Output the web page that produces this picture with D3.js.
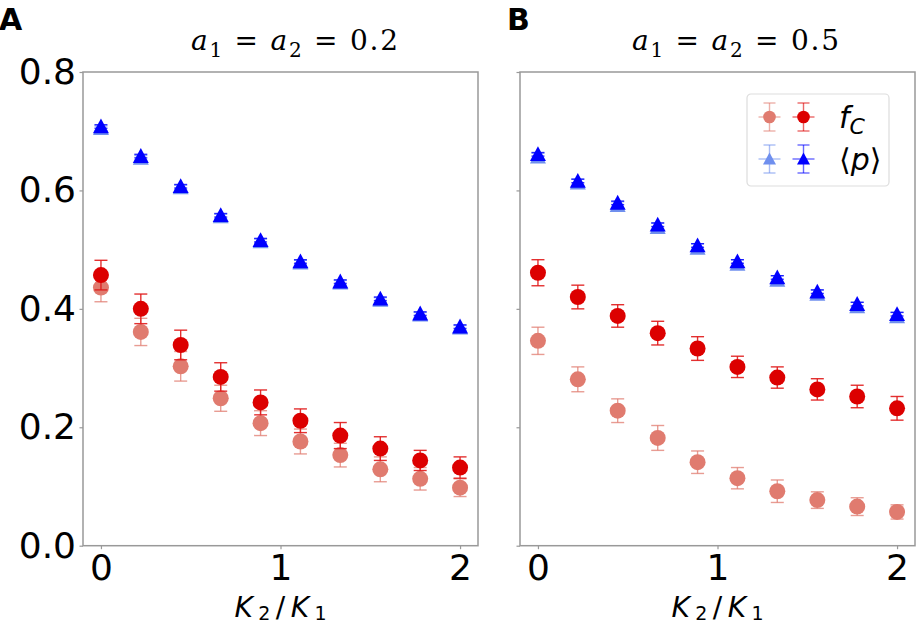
<!DOCTYPE html>
<html lang="en">
<head>
  <meta charset="UTF-8">
  <title>f_C and p vs K2/K1</title>
  <style>
    body { margin: 0; background: #fff; }
    svg { display: block; }
  </style>
</head>
<body>
  <svg id="chart" width="916" height="625"></svg>

  <script src="https://d3js.org/d3.v7.min.js"></script>
  <script>
    // x values (K2/K1)
    const kRatio = [0, 0.222, 0.444, 0.667, 0.889, 1.111, 1.333, 1.556, 1.778, 2]

    // y axis ticks
    const yTicks = [0, 0.2, 0.4, 0.6, 0.8]
    const xTicks = [0, 1, 2]

    // panel A : a1 = a2 = 0.2
    const fcLightA = [0.436, 0.361, 0.303, 0.249, 0.207, 0.176, 0.153, 0.129, 0.113, 0.098]
    const fcLightAErr = [0.024, 0.023, 0.025, 0.022, 0.021, 0.021, 0.020, 0.021, 0.019, 0.015]
    const fcDarkA = [0.457, 0.400, 0.339, 0.285, 0.242, 0.211, 0.186, 0.164, 0.144, 0.132]
    const fcDarkAErr = [0.025, 0.025, 0.025, 0.024, 0.021, 0.020, 0.022, 0.020, 0.017, 0.018]
    const pLightA = [0.705, 0.655, 0.605, 0.556, 0.514, 0.478, 0.444, 0.415, 0.390, 0.368]
    const pLightAErr = [0.004, 0.004, 0.004, 0.004, 0.004, 0.004, 0.004, 0.004, 0.004, 0.004]
    const pDarkA = [0.708, 0.658, 0.607, 0.558, 0.516, 0.480, 0.446, 0.417, 0.392, 0.370]
    const pDarkAErr = [0.003, 0.003, 0.003, 0.003, 0.003, 0.003, 0.003, 0.003, 0.003, 0.003]

    // panel B : a1 = a2 = 0.5
    const fcLightB = [0.346, 0.281, 0.228, 0.182, 0.141, 0.114, 0.092, 0.077, 0.066, 0.057]
    const fcLightBErr = [0.023, 0.021, 0.020, 0.021, 0.019, 0.018, 0.019, 0.014, 0.015, 0.012]
    const fcDarkB = [0.461, 0.420, 0.388, 0.359, 0.333, 0.302, 0.284, 0.264, 0.252, 0.232]
    const fcDarkBErr = [0.022, 0.020, 0.019, 0.020, 0.020, 0.018, 0.018, 0.018, 0.019, 0.020]
    const pLightB = [0.657, 0.613, 0.575, 0.538, 0.503, 0.476, 0.449, 0.425, 0.404, 0.387]
    const pLightBErr = [0.006, 0.006, 0.006, 0.007, 0.007, 0.007, 0.007, 0.007, 0.007, 0.007]
    const pDarkB = [0.661, 0.616, 0.579, 0.542, 0.507, 0.480, 0.453, 0.429, 0.408, 0.391]
    const pDarkBErr = [0.003, 0.003, 0.003, 0.003, 0.003, 0.003, 0.003, 0.003, 0.003, 0.003]

    // Colors
    const darkRed = '#dc0000'
    const lightRed = '#e07b6f'
    const darkBlue = '#0000ff'
    const lightBlue = '#6f8fee'
    const spineColor = '#999999'

    const svg = d3.select('#chart')
    const plotTop = 72
    const plotBottom = 545.7
    const yscale = d3.scaleLinear().domain([0, 0.8]).range([plotBottom, plotTop])

    const zip = (xs, ys, es) => xs.map((x, i) => ({ x, y: ys[i], e: es[i] }))

    function triangle(cx, cy, s) {
      return `M${cx},${cy - s}L${cx + s},${cy + s * 0.85}L${cx - s},${cy + s * 0.85}Z`
    }

    // Draws error bars + markers for one series
    function drawSeries(g, xscale, data, opts) {
      const grp = g.append('g')
      const cap = 6.5
      const eb = grp.append('g')
        .attr('stroke', opts.errColor)
        .attr('stroke-opacity', opts.errOpacity)
        .attr('stroke-width', 1.4)
      eb.selectAll('line.v').data(data).enter().append('line')
        .attr('x1', d => xscale(d.x)).attr('x2', d => xscale(d.x))
        .attr('y1', d => yscale(d.y - d.e)).attr('y2', d => yscale(d.y + d.e))
      eb.selectAll('line.t').data(data).enter().append('line')
        .attr('x1', d => xscale(d.x) - cap).attr('x2', d => xscale(d.x) + cap)
        .attr('y1', d => yscale(d.y + d.e)).attr('y2', d => yscale(d.y + d.e))
      eb.selectAll('line.b').data(data).enter().append('line')
        .attr('x1', d => xscale(d.x) - cap).attr('x2', d => xscale(d.x) + cap)
        .attr('y1', d => yscale(d.y - d.e)).attr('y2', d => yscale(d.y - d.e))

      if (opts.shape === 'circle') {
        grp.selectAll('circle').data(data).enter().append('circle')
          .attr('cx', d => xscale(d.x))
          .attr('cy', d => yscale(d.y))
          .attr('r', 8)
          .attr('fill', opts.color)
      } else {
        grp.selectAll('path').data(data).enter().append('path')
          .attr('d', d => triangle(xscale(d.x), yscale(d.y), 8))
          .attr('fill', opts.color)
      }
    }

    function drawPanel(opts) {
      const xscale = d3.scaleLinear().domain([-0.1, 2.1]).range([opts.left, opts.right])
      const g = svg.append('g')

      // frame
      g.append('rect')
        .attr('x', opts.left).attr('y', plotTop)
        .attr('width', opts.right - opts.left).attr('height', plotBottom - plotTop)
        .attr('fill', 'none').attr('stroke', spineColor).attr('stroke-width', 1.5)

      // axes
      const xAxis = g.append('g')
        .attr('transform', `translate(0, ${plotBottom})`)
        .call(d3.axisBottom(xscale).tickValues(xTicks).tickSize(3.5).tickPadding(5).tickFormat(d3.format('d')))
      const yAxis = g.append('g')
        .attr('transform', `translate(${opts.left}, 0)`)
        .call(d3.axisLeft(yscale).tickValues(yTicks).tickSize(3.5).tickPadding(3.5)
          .tickFormat(opts.showY ? d3.format('.1f') : () => ''))
      ;[xAxis, yAxis].forEach(ax => {
        ax.select('.domain').remove()
        ax.selectAll('.tick line').attr('stroke', spineColor).attr('stroke-width', 1.2)
        ax.selectAll('.tick text')
          .attr('fill', '#000')
          .style('font-family', '"DejaVu Sans", sans-serif')
          .style('font-size', '36px')
      })

      // series
      drawSeries(g, xscale, zip(kRatio, opts.pLight, opts.pLightErr),
        { shape: 'triangle', color: lightBlue, errColor: lightBlue, errOpacity: 0.8 })
      drawSeries(g, xscale, zip(kRatio, opts.pDark, opts.pDarkErr),
        { shape: 'triangle', color: darkBlue, errColor: darkBlue, errOpacity: 0.8 })
      drawSeries(g, xscale, zip(kRatio, opts.fcLight, opts.fcLightErr),
        { shape: 'circle', color: lightRed, errColor: lightRed, errOpacity: 0.75 })
      drawSeries(g, xscale, zip(kRatio, opts.fcDark, opts.fcDarkErr),
        { shape: 'circle', color: darkRed, errColor: '#e01a1a', errOpacity: 0.9 })

      // title
      const title = g.append('text')
        .attr('x', opts.titleX - 103).attr('y', 50)
        .attr('textLength', 207).attr('lengthAdjust', 'spacing')
        .style('font-family', '"DejaVu Serif", serif')
        .style('font-size', '28px')
      title.append('tspan').style('font-style', 'italic').text('a')
      title.append('tspan').attr('dy', 7).style('font-size', '20px').text('1')
      title.append('tspan').attr('dy', -7).text(' = ')
      title.append('tspan').style('font-style', 'italic').text('a')
      title.append('tspan').attr('dy', 7).style('font-size', '20px').text('2')
      title.append('tspan').attr('dy', -7).text(' = ' + opts.aValue)

      // x label
      const xl = g.append('text')
        .attr('x', (opts.left + opts.right) / 2 - 46).attr('y', 617)
        .attr('textLength', 92).attr('lengthAdjust', 'spacing')
        .style('font-family', '"DejaVu Sans", sans-serif')
        .style('font-size', '28px')
      xl.append('tspan').style('font-style', 'italic').text('K')
      xl.append('tspan').attr('dy', 3).style('font-size', '19px').text('2')
      xl.append('tspan').attr('dy', -3).text('/')
      xl.append('tspan').style('font-style', 'italic').text('K')
      xl.append('tspan').attr('dy', 3).style('font-size', '19px').text('1')

      // panel letter
      g.append('text')
        .attr('x', opts.letterX).attr('y', 29.5)
        .style('font-family', '"DejaVu Sans", sans-serif')
        .style('font-weight', 'bold')
        .style('font-size', '30px')
        .text(opts.letter)

      return xscale
    }

    drawPanel({
      left: 83, right: 478, showY: true, titleX: 294, letterX: -1, letter: 'A', aValue: '0.2',
      fcLight: fcLightA, fcLightErr: fcLightAErr, fcDark: fcDarkA, fcDarkErr: fcDarkAErr,
      pLight: pLightA, pLightErr: pLightAErr, pDark: pDarkA, pDarkErr: pDarkAErr
    })
    drawPanel({
      left: 520, right: 915, showY: false, titleX: 735, letterX: 507, letter: 'B', aValue: '0.5',
      fcLight: fcLightB, fcLightErr: fcLightBErr, fcDark: fcDarkB, fcDarkErr: fcDarkBErr,
      pLight: pLightB, pLightErr: pLightBErr, pDark: pDarkB, pDarkErr: pDarkBErr
    })

    // Legend (panel B)
    const legend = svg.append('g').attr('transform', 'translate(747, 94)')
    legend.append('rect')
      .attr('width', 142).attr('height', 92).attr('rx', 4)
      .attr('fill', '#fff').attr('fill-opacity', 0.8)
      .attr('stroke', '#dddddd').attr('stroke-width', 1.2)

    const legendItems = [
      { y: 23, shape: 'circle', colors: [lightRed, darkRed], label: 'fc' },
      { y: 65, shape: 'triangle', colors: [lightBlue, darkBlue], label: 'p' }
    ]
    legendItems.forEach(item => {
      item.colors.forEach((c, j) => {
        const cx = 22.5 + j * 34
        const lg = legend.append('g').attr('stroke', c).attr('stroke-opacity', 0.6).attr('stroke-width', 1.4)
        lg.append('line').attr('x1', cx - 11).attr('x2', cx + 11).attr('y1', item.y).attr('y2', item.y)
        lg.append('line').attr('x1', cx).attr('x2', cx).attr('y1', item.y - 14).attr('y2', item.y + 14)
        lg.append('line').attr('x1', cx - 6).attr('x2', cx + 6).attr('y1', item.y - 14).attr('y2', item.y - 14)
        lg.append('line').attr('x1', cx - 6).attr('x2', cx + 6).attr('y1', item.y + 14).attr('y2', item.y + 14)
        if (item.shape === 'circle') {
          legend.append('circle').attr('cx', cx).attr('cy', item.y).attr('r', 6.3).attr('fill', c)
        } else {
          legend.append('path').attr('d', triangle(cx, item.y, 6.5)).attr('fill', c)
        }
      })
      const t = legend.append('text')
        .attr('x', 92).attr('y', item.y + 11)
        .style('font-family', '"DejaVu Sans", sans-serif')
        .style('font-size', '30px')
      if (item.label === 'fc') {
        t.append('tspan').style('font-style', 'italic').text('f')
        t.append('tspan').attr('dy', 6).style('font-style', 'italic').style('font-size', '22px').text('C')
      } else {
        t.append('tspan').text('\u27E8')
        t.append('tspan').style('font-style', 'italic').text('p')
        t.append('tspan').text('\u27E9')
      }
    })
  </script>
</body>
</html>
